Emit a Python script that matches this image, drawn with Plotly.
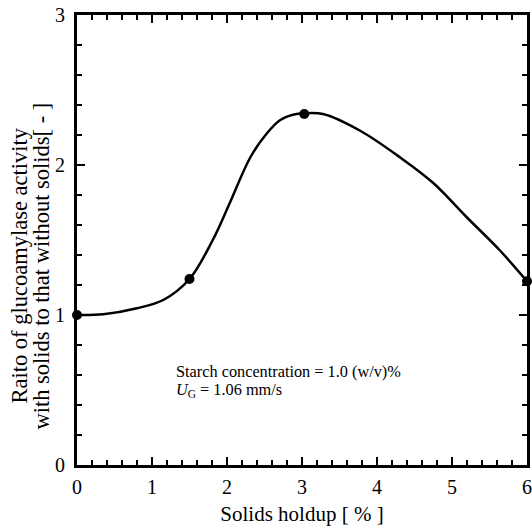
import plotly.graph_objects as go

# Measured data points
pt_x = [0, 1.5, 3.03, 6.0]
pt_y = [1.0, 1.24, 2.34, 1.225]

# Smooth curve
curve_x = [0, 0.35, 0.8, 1.15, 1.5, 1.81, 2.04, 2.31, 2.53, 2.71, 2.88, 3.03, 3.28, 3.77, 4.31, 4.75, 5.2, 5.64, 6.0]
curve_y = [1.0, 1.005, 1.045, 1.10, 1.24, 1.50, 1.75, 2.05, 2.21, 2.30, 2.335, 2.345, 2.34, 2.23, 2.05, 1.88, 1.65, 1.43, 1.225]

x_ticks = [0, 1, 2, 3, 4, 5, 6]
y_ticks = [0, 1, 2, 3]

y_title_lines = ["Raito of glucoamylase activity", "with solids to that without solids[ - ]"]
x_title = "Solids holdup [ % ]"
note_lines = ["Starch concentration = 1.0 (w/v)%", "<i>U</i><sub>G</sub> = 1.06 mm/s"]

FONT = "Liberation Serif"

fig = go.Figure()
fig.add_trace(go.Scatter(x=curve_x, y=curve_y, mode="lines",
                         line=dict(color="black", width=2.5, shape="spline", smoothing=1.0),
                         hoverinfo="skip", cliponaxis=False))
fig.add_trace(go.Scatter(x=pt_x, y=pt_y, mode="markers",
                         marker=dict(color="black", size=10), cliponaxis=False))

axis_common = dict(showgrid=False, zeroline=False, showline=True, linecolor="black", linewidth=3,
                   mirror="allticks", ticks="inside", ticklen=8, tickwidth=2, tickcolor="black",
                   automargin=False,
                   tickfont=dict(family=FONT, size=20, color="black"))

fig.update_xaxes(range=[0, 6], tickvals=x_ticks, ticktext=[str(v) for v in x_ticks],
                 ticklabeloverflow="allow", ticklabelstandoff=2,
                 minor=dict(ticks="inside", dtick=0.2, ticklen=5, tickwidth=2, tickcolor="black"),
                 title=dict(text=x_title, font=dict(family=FONT, size=21, color="black"), standoff=10),
                 **axis_common)
fig.update_yaxes(range=[0, 3], tickvals=y_ticks, ticktext=[str(v) for v in y_ticks],
                 ticklabelstandoff=5,
                 minor=dict(ticks="inside", dtick=0.2, ticklen=5, tickwidth=2, tickcolor="black"),
                 **axis_common)

# y-axis title as two rotated lines (tight line spacing as in the reference)
for txt, xp in zip(y_title_lines, [-0.127, -0.078]):
    fig.add_annotation(x=xp, y=0.443, xref="paper", yref="paper", xanchor="center", yanchor="middle",
                       showarrow=False, textangle=-90, text=txt,
                       font=dict(family=FONT, size=22.5, color="black"))

for txt, yp in zip(note_lines, [0.208, 0.166]):
    fig.add_annotation(x=0.215, y=yp, xref="paper", yref="paper", xanchor="left", yanchor="middle",
                       showarrow=False, align="left", text=txt,
                       font=dict(family=FONT, size=16.3, color="black"))

fig.update_layout(width=532, height=530, margin=dict(l=77, r=5, t=15, b=65),
                  plot_bgcolor="white", paper_bgcolor="white", showlegend=False)

fig.write_html("out.html", config={"displayModeBar": False},
               post_script="document.body.style.margin='0';document.body.style.overflow='hidden';")
